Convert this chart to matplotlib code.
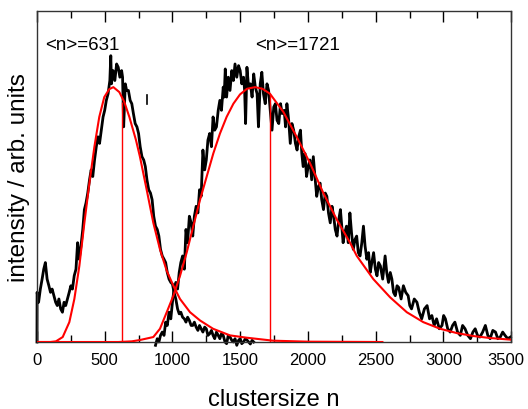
import numpy as np
import matplotlib.pyplot as plt
import matplotlib.transforms as mtransforms

plt.rcParams['font.family'] = ['Liberation Sans', 'DejaVu Sans']

# measured spectrum, small clusters (first peak)
small_n = [0, 1, 12, 25, 38, 50, 62, 75, 88, 100,
           112, 125, 138, 150, 162, 175, 188, 200, 212, 225,
           238, 250, 262, 275, 288, 300, 312, 325, 338, 350,
           362, 375, 388, 400, 412, 425, 438, 450, 462, 475,
           488, 500, 512, 525, 538, 545, 550, 562, 575, 588,
           600, 612, 625, 632, 640, 652, 662, 675, 688, 700,
           712, 725, 738, 750, 762, 775, 788, 800, 812, 825,
           838, 850, 862, 875, 888, 900, 912, 925, 938, 950,
           962, 975, 988, 1000, 1012, 1025, 1038, 1050, 1062, 1075,
           1088, 1100, 1112, 1125, 1138, 1150, 1162, 1175, 1188, 1200,
           1212, 1225, 1238, 1250, 1262, 1275, 1288, 1300, 1312, 1325,
           1338, 1350, 1362, 1375, 1388, 1400, 1412, 1425, 1438, 1450,
           1462, 1475, 1488, 1500, 1512, 1525, 1538, 1550, 1562, 1575,
           1588, 1600]
small_i = [0.00, 0.15, 0.12, 0.16, 0.19, 0.22, 0.24, 0.19, 0.17, 0.15,
           0.16, 0.14, 0.12, 0.11, 0.13, 0.10, 0.09, 0.12, 0.11, 0.13,
           0.15, 0.17, 0.16, 0.20, 0.22, 0.30, 0.25, 0.29, 0.34, 0.40,
           0.42, 0.45, 0.49, 0.52, 0.50, 0.55, 0.59, 0.62, 0.60, 0.64,
           0.68, 0.70, 0.73, 0.75, 0.79, 0.865, 0.78, 0.82, 0.79, 0.84,
           0.83, 0.80, 0.82, 0.80, 0.65, 0.78, 0.76, 0.76, 0.73, 0.72,
           0.69, 0.66, 0.65, 0.63, 0.59, 0.56, 0.55, 0.53, 0.49, 0.46,
           0.45, 0.43, 0.38, 0.35, 0.34, 0.32, 0.28, 0.26, 0.25, 0.24,
           0.21, 0.19, 0.18, 0.175, 0.15, 0.13, 0.10, 0.085, 0.09, 0.075,
           0.07, 0.06, 0.075, 0.065, 0.05, 0.05, 0.06, 0.045, 0.035, 0.05,
           0.04, 0.03, 0.045, 0.04, 0.02, 0.025, 0.035, 0.02, 0.01, 0.03,
           0.02, 0.01, 0.025, 0.02, 0.0, -0.005, 0.02, 0.015, 0.005, 0.0,
           0.01, -0.01, 0.005, 0.01, -0.005, 0.0, 0.01, 0.006, 0.0, -0.006,
           0.005, 0.0]

# measured spectrum, large clusters (second peak)
large_n = [875, 888, 900, 912, 925, 938, 950, 962, 975, 988,
           1000, 1012, 1025, 1038, 1050, 1062, 1075, 1088, 1100, 1112,
           1125, 1138, 1150, 1162, 1175, 1188, 1200, 1212, 1225, 1238,
           1250, 1262, 1275, 1288, 1300, 1312, 1325, 1338, 1350, 1362,
           1375, 1382, 1390, 1400, 1412, 1425, 1438, 1450, 1462, 1475,
           1488, 1500, 1512, 1525, 1533, 1540, 1550, 1562, 1575, 1588,
           1600, 1612, 1625, 1635, 1648, 1660, 1672, 1685, 1698, 1710,
           1722, 1735, 1748, 1760, 1772, 1785, 1798, 1810, 1825, 1835,
           1845, 1858, 1870, 1882, 1895, 1908, 1920, 1932, 1945, 1955,
           1965, 1978, 1990, 2002, 2015, 2028, 2040, 2052, 2065, 2078,
           2090, 2102, 2115, 2128, 2140, 2152, 2165, 2178, 2190, 2202,
           2215, 2228, 2240, 2250, 2260, 2272, 2285, 2298, 2310, 2322,
           2335, 2348, 2360, 2372, 2385, 2398, 2410, 2422, 2435, 2448,
           2460, 2472, 2485, 2498, 2510, 2522, 2535, 2552, 2570, 2582,
           2595, 2608, 2620, 2632, 2645, 2658, 2670, 2688, 2705, 2722,
           2740, 2752, 2765, 2785, 2805, 2822, 2840, 2860, 2880, 2898,
           2915, 2932, 2950, 2970, 2990, 3002, 3015, 3032, 3050, 3068,
           3085, 3105, 3125, 3142, 3160, 3180, 3200, 3218, 3235, 3252,
           3270, 3290, 3310, 3328, 3345, 3365, 3385, 3402, 3420, 3438,
           3455, 3475, 3495]
large_i = [-0.01, 0.01, 0.0, 0.02, 0.03, 0.02, 0.06, 0.05, 0.09, 0.07,
           0.12, 0.16, 0.18, 0.16, 0.21, 0.24, 0.26, 0.22, 0.34, 0.30,
           0.38, 0.36, 0.32, 0.38, 0.41, 0.39, 0.46, 0.44, 0.58, 0.52,
           0.55, 0.61, 0.63, 0.59, 0.68, 0.64, 0.65, 0.70, 0.73, 0.70,
           0.77, 0.74, 0.825, 0.74, 0.80, 0.76, 0.82, 0.79, 0.84, 0.80,
           0.835, 0.82, 0.78, 0.80, 0.76, 0.66, 0.83, 0.77, 0.78, 0.74,
           0.81, 0.77, 0.75, 0.65, 0.78, 0.815, 0.75, 0.72, 0.78, 0.76,
           0.70, 0.64, 0.71, 0.72, 0.67, 0.66, 0.72, 0.69, 0.70, 0.65,
           0.72, 0.67, 0.60, 0.66, 0.64, 0.60, 0.58, 0.62, 0.64, 0.57,
           0.53, 0.57, 0.50, 0.53, 0.55, 0.49, 0.56, 0.50, 0.44, 0.47,
           0.48, 0.43, 0.40, 0.45, 0.44, 0.39, 0.36, 0.41, 0.38, 0.34,
           0.32, 0.37, 0.40, 0.35, 0.30, 0.33, 0.35, 0.30, 0.39, 0.33,
           0.28, 0.31, 0.32, 0.27, 0.26, 0.30, 0.35, 0.29, 0.25, 0.27,
           0.21, 0.24, 0.27, 0.22, 0.20, 0.24, 0.23, 0.19, 0.26, 0.21,
           0.18, 0.21, 0.19, 0.15, 0.14, 0.17, 0.165, 0.13, 0.17, 0.15,
           0.14, 0.11, 0.10, 0.13, 0.12, 0.09, 0.07, 0.10, 0.11, 0.07,
           0.08, 0.05, 0.07, 0.04, 0.05, 0.08, 0.07, 0.04, 0.03, 0.05,
           0.06, 0.03, 0.02, 0.05, 0.04, 0.02, 0.01, 0.03, 0.04, 0.02,
           0.015, 0.03, 0.05, 0.02, 0.01, 0.035, 0.03, 0.01, 0.015, 0.03,
           0.02, 0.01, 0.015]

# stray point in the first spectrum
stray_n = [815, 815]
stray_i = [0.72, 0.745]

# fitted distributions
fit1_n = [0, 100, 140, 190, 239, 276, 313, 350, 387, 424, 460, 497, 534, 564, 608,
          645, 682, 731, 760, 810, 859, 908, 958, 1007, 1056, 1130, 1204, 1300,
          1425, 1548, 1743, 2000, 2550]
fit1_i = [0, 0, 0.002, 0.015, 0.06, 0.13, 0.23, 0.36, 0.48, 0.59, 0.68, 0.74, 0.764,
          0.77, 0.755, 0.725, 0.68, 0.61, 0.56, 0.46, 0.36, 0.28, 0.215, 0.17, 0.13,
          0.09, 0.065, 0.04, 0.02, 0.013, 0.004, 0.001, 0]
fit2_n = [0, 600, 700, 760, 859, 908, 958, 1007, 1056, 1105, 1154, 1204, 1253, 1302,
          1351, 1400, 1450, 1499, 1550, 1610, 1665, 1720, 1819, 1917, 2016, 2114,
          2213, 2311, 2361, 2483, 2607, 2730, 2852, 2976, 3099, 3222, 3345, 3500]
fit2_i = [0, 0, 0.002, 0.006, 0.015, 0.04, 0.09, 0.14, 0.20, 0.27, 0.35, 0.43, 0.50,
          0.57, 0.63, 0.68, 0.72, 0.748, 0.765, 0.77, 0.765, 0.75, 0.695, 0.62, 0.54,
          0.45, 0.37, 0.30, 0.26, 0.19, 0.135, 0.09, 0.06, 0.04, 0.027, 0.018, 0.012,
          0.007]

means = [631, 1721]
mean_heights = [0.725, 0.75]
labels = ['<n>=631', '<n>=1721']

fig = plt.figure(figsize=(5.28, 4.10), dpi=100)
ax = fig.add_axes([0.070, 0.1634, 0.898, 0.8073])

ax.plot(small_n, small_i, color='black', lw=2.0, clip_on=False, zorder=2)
ax.plot(large_n, large_i, color='black', lw=2.0, clip_on=False, zorder=2)
ax.plot(stray_n, stray_i, color='black', lw=1.2, zorder=2)

ax.plot(fit1_n, fit1_i, color='red', lw=1.5, zorder=3)
ax.plot(fit2_n, fit2_i, color='red', lw=1.5, zorder=3)
ax.vlines(means, 0, mean_heights, color='red', lw=1.0, zorder=3)

ax.text(59, 0.90, labels[0], fontsize=13.5, va='center', ha='left')
ax.text(1610, 0.90, labels[1], fontsize=13.5, va='center', ha='left')

ax.set_xlim(0, 3500)
ax.set_ylim(0, 1)
ax.set_xticks([0, 500, 1000, 1500, 2000, 2500, 3000, 3500])
ax.set_xticks([250, 750, 1250, 1750, 2250, 2750, 3250], minor=True)
ax.set_yticks([])
ax.tick_params(axis='x', which='both', direction='in', top=True, labelsize=12, pad=7)
ax.tick_params(axis='x', which='major', length=8, width=1)
ax.tick_params(axis='x', which='minor', length=5, width=1)
for s in ax.spines.values():
    s.set_color('#333333')
    s.set_linewidth(1.0)

# last tick label sits a little left of its tick, as in the original
last = ax.get_xticklabels()[-1]
last.set_transform(last.get_transform() + mtransforms.ScaledTranslation(-5 / 100, 0, fig.dpi_scale_trans))

ax.set_xlabel('clustersize n', fontsize=17, labelpad=15)
ax.set_ylabel('intensity / arb. units', fontsize=17.5, labelpad=5)

fig.savefig('out.png', dpi=100)
